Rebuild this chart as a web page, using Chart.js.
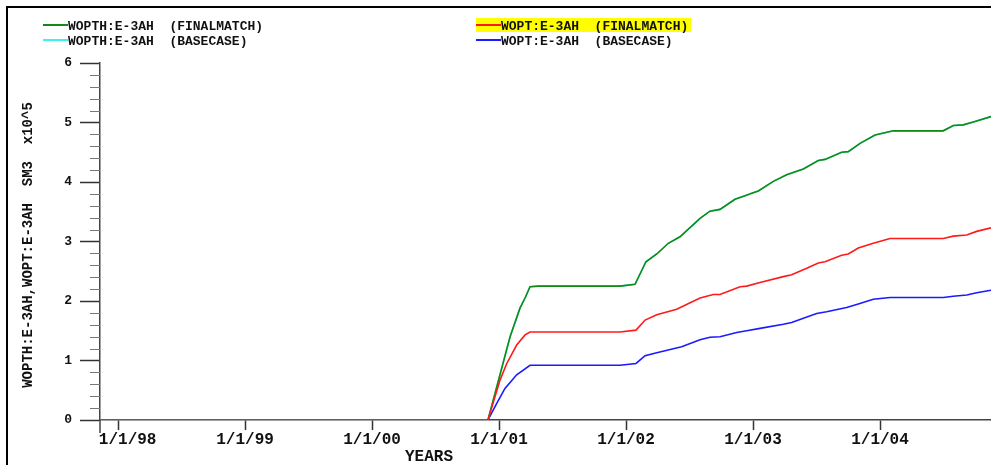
<!DOCTYPE html>
<html>
<head>
<meta charset="utf-8">
<script src="https://cdn.jsdelivr.net/npm/chart.js@4"></script>
<style>
  html, body { margin: 0; padding: 0; background: #fff; overflow: hidden; }
  #caixa { width: 991px; height: 465px; }
</style>
</head>
<body>
<div id="caixa"><canvas id="grafico" width="991" height="465"></canvas></div>
<script>
// Dados (x em anos decimais, y em SM3 x10^5)
const wopthYears = [1997.858, 2000.913, 2001.087, 2001.165, 2001.205, 2001.244, 2001.309, 2001.953, 2002.071, 2002.157,
  2002.242, 2002.333, 2002.425, 2002.583, 2002.661, 2002.740, 2002.858, 2002.937, 2002.990, 2003.042,
  2003.160, 2003.265, 2003.396, 2003.514, 2003.567, 2003.698, 2003.750, 2003.843, 2003.961, 2004.105,
  2004.498, 2004.577, 2004.656, 2004.735, 2004.874];
const wopthFinal = [0, 0, 1.40, 1.88, 2.05, 2.24, 2.25, 2.25, 2.28, 2.66,
  2.79, 2.97, 3.08, 3.39, 3.51, 3.54, 3.71, 3.77, 3.81, 3.85,
  4.01, 4.12, 4.22, 4.36, 4.38, 4.50, 4.51, 4.65, 4.79, 4.86,
  4.86, 4.95, 4.96, 5.01, 5.10];
// historico igual nos dois casos (fica escondido sob a linha verde)
const wopthBase = [...wopthFinal];

const woptFinalYears = [1997.858, 2000.913, 2001.008, 2001.061, 2001.139, 2001.205, 2001.244, 2001.953, 2002.079, 2002.150,
  2002.242, 2002.399, 2002.583, 2002.687, 2002.740, 2002.898, 2002.950, 2003.055, 2003.239, 2003.304,
  2003.423, 2003.514, 2003.567, 2003.698, 2003.750, 2003.829, 2003.947, 2004.079, 2004.498, 2004.577,
  2004.683, 2004.761, 2004.874];
const woptFinal = [0, 0, 0.67, 0.95, 1.26, 1.43, 1.48, 1.48, 1.51, 1.68,
  1.77, 1.86, 2.05, 2.11, 2.11, 2.24, 2.25, 2.31, 2.41, 2.44,
  2.55, 2.64, 2.66, 2.77, 2.79, 2.89, 2.97, 3.05, 3.05, 3.09,
  3.11, 3.17, 3.23];

const woptBaseYears = [1997.858, 2000.913, 2000.982, 2001.047, 2001.139, 2001.244, 2001.953, 2002.079, 2002.150, 2002.242,
  2002.438, 2002.583, 2002.661, 2002.740, 2002.872, 2002.950, 2003.055, 2003.239, 2003.304, 2003.501,
  2003.580, 2003.737, 2003.829, 2003.947, 2004.079, 2004.498, 2004.577, 2004.683, 2004.761, 2004.874];
const woptBase = [0, 0, 0.28, 0.53, 0.76, 0.92, 0.92, 0.95, 1.08, 1.13,
  1.23, 1.35, 1.39, 1.40, 1.47, 1.50, 1.54, 1.61, 1.64, 1.79,
  1.82, 1.89, 1.95, 2.03, 2.06, 2.06, 2.08, 2.10, 2.14, 2.18];

const xTickYears = [1998, 1999, 2000, 2001, 2002, 2003, 2004];
const xTickLabels = ['1/1/98', '1/1/99', '1/1/00', '1/1/01', '1/1/02', '1/1/03', '1/1/04'];
const yTickValues = [0, 1, 2, 3, 4, 5, 6];
const yTitle = 'WOPTH:E-3AH,WOPT:E-3AH  SM3  x10^5';
const xTitle = 'YEARS';

const legendNames = ['WOPTH:E-3AH', 'WOPTH:E-3AH', 'WOPT:E-3AH', 'WOPT:E-3AH'];
const legendCases = ['(FINALMATCH)', '(BASECASE)', '(FINALMATCH)', '(BASECASE)'];

const VERDE = '#138a13', CIANO = '#3ff0f0', VERMELHO = '#ff1a1a', AZUL = '#1a1aff';
const fonte = '"Liberation Mono", "DejaVu Sans Mono", monospace';

const pares = (xs, ys) => xs.map((x, i) => ({ x: x, y: ys[i] }));

// Moldura, legenda, titulos e ticks menores
const extras = {
  id: 'extras',
  beforeDraw(chart) {
    const ctx = chart.ctx;
    ctx.save();
    ctx.fillStyle = '#fff';
    ctx.fillRect(0, 0, chart.width, chart.height);

    ctx.strokeStyle = '#000';
    ctx.lineWidth = 2;
    ctx.beginPath();
    ctx.moveTo(7, chart.height);
    ctx.lineTo(7, 7);
    ctx.lineTo(chart.width, 7);
    ctx.stroke();

    // legenda em duas colunas
    ctx.fillStyle = '#ffff00';
    ctx.fillRect(476, 18, 215, 14);

    const itens = [
      { x: 43, y: 26, cor: VERDE },
      { x: 43, y: 41, cor: CIANO },
      { x: 476, y: 26, cor: VERMELHO },
      { x: 476, y: 41, cor: AZUL }
    ];
    ctx.font = 'bold 13px ' + fonte;
    ctx.textBaseline = 'middle';
    itens.forEach((it, i) => {
      ctx.strokeStyle = it.cor;
      ctx.lineWidth = 2;
      ctx.beginPath();
      ctx.moveTo(it.x, it.y - 1);
      ctx.lineTo(it.x + 25, it.y - 1);
      ctx.stroke();
      ctx.fillStyle = '#111';
      ctx.fillText(legendNames[i] + '  ' + legendCases[i], it.x + 25, it.y + 1);
    });
    ctx.restore();
  },
  afterDraw(chart) {
    const ctx = chart.ctx;
    const y = chart.scales.y;
    const x = chart.scales.x;
    ctx.save();
    // ticks menores do eixo y
    ctx.strokeStyle = '#777';
    ctx.lineWidth = 1;
    for (let k = 1; k < 30; k++) {
      if (k % 5 === 0) continue;
      const py = Math.round(y.getPixelForValue(k / 5)) + 0.5;
      ctx.beginPath();
      ctx.moveTo(y.right - 10, py);
      ctx.lineTo(y.right, py);
      ctx.stroke();
    }
    // eixo y desce um pouco abaixo do zero
    ctx.strokeStyle = '#444';
    ctx.lineWidth = 1.5;
    ctx.beginPath();
    ctx.moveTo(x.left, x.top);
    ctx.lineTo(x.left, x.top + 13);
    ctx.stroke();

    ctx.fillStyle = '#111';
    ctx.font = 'bold 16px ' + fonte;
    ctx.textAlign = 'center';
    ctx.textBaseline = 'middle';
    ctx.fillText(xTitle, 429, 457);

    ctx.font = 'bold 14px ' + fonte;
    ctx.translate(28, 245);
    ctx.rotate(-Math.PI / 2);
    ctx.fillText(yTitle, 0, 0);
    ctx.restore();
  }
};

new Chart(document.getElementById('grafico'), {
  type: 'line',
  data: {
    datasets: [
      { label: 'WOPTH:E-3AH (FINALMATCH)', data: pares(wopthYears, wopthFinal), borderColor: VERDE, order: 1 },
      { label: 'WOPTH:E-3AH (BASECASE)', data: pares(wopthYears, wopthBase), borderColor: CIANO, order: 2 },
      { label: 'WOPT:E-3AH (FINALMATCH)', data: pares(woptFinalYears, woptFinal), borderColor: VERMELHO, order: 0 },
      { label: 'WOPT:E-3AH (BASECASE)', data: pares(woptBaseYears, woptBase), borderColor: AZUL, order: 3 }
    ]
  },
  options: {
    responsive: false,
    animation: false,
    layout: { padding: { top: 63, left: 0, right: 0, bottom: 0 } },
    elements: {
      line: { borderWidth: 1.6, tension: 0, fill: false },
      point: { radius: 0, hoverRadius: 0 }
    },
    plugins: {
      legend: { display: false },
      tooltip: { enabled: false }
    },
    scales: {
      x: {
        type: 'linear',
        min: 1997.858,
        max: 2004.874,
        afterBuildTicks: s => { s.ticks = xTickYears.map(v => ({ value: v })); },
        afterFit: s => { s.height = 45; },
        border: { display: true, color: '#444', width: 1.5 },
        grid: { drawOnChartArea: false, tickLength: 10, tickColor: '#333', tickWidth: 1.5 },
        ticks: {
          autoSkip: false,
          maxRotation: 0,
          padding: 0,
          color: '#111',
          font: { family: fonte, size: 16, weight: 'bold' },
          callback: (v, i) => (i === 0 ? '  ' : '') + xTickLabels[i]
        }
      },
      y: {
        min: 0,
        max: 6,
        afterBuildTicks: s => { s.ticks = yTickValues.map(v => ({ value: v })); },
        afterFit: s => { s.width = 100; },
        border: { display: true, color: '#444', width: 1.5 },
        grid: { drawOnChartArea: false, tickLength: 20, tickColor: '#333', tickWidth: 1.5 },
        ticks: {
          padding: 8,
          color: '#111',
          font: { family: fonte, size: 13, weight: 'bold' },
          callback: v => String(v)
        }
      }
    }
  },
  plugins: [extras]
});
</script>
</body>
</html>
